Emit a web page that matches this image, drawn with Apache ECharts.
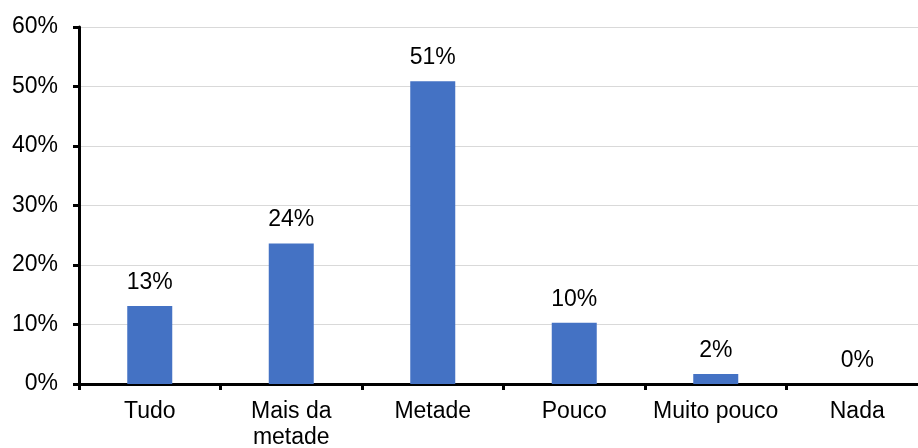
<!DOCTYPE html>
<html>
<head>
<meta charset="utf-8">
<script src="https://cdn.jsdelivr.net/npm/echarts@6/dist/echarts.min.js"></script>
<style>
html,body{margin:0;padding:0;background:#fff;}
#chart{width:918px;height:448px;}
</style>
</head>
<body>
<div id="chart"></div>
<script>
const categories = ['Tudo', 'Mais da\nmetade', 'Metade', 'Pouco', 'Muito pouco', 'Nada'];
const values = [13.1, 23.6, 50.9, 10.3, 1.7, 0];
const yTicks = { min: 0, max: 60, interval: 10 };

const font = '"Liberation Sans", Arial, sans-serif';
const chart = echarts.init(document.getElementById('chart'), null, { renderer: 'canvas' });
chart.setOption({
  animation: false,
  backgroundColor: '#ffffff',
  grid: { left: 79, top: 27, height: 357, width: 849, containLabel: false, outerBoundsMode: 'none' },
  xAxis: {
    type: 'category',
    data: categories,
    axisLine: { lineStyle: { color: '#000', width: 3 } },
    axisTick: { show: true, length: 6, lineStyle: { color: '#000', width: 3 }, alignWithLabel: false },
    axisLabel: { color: '#000', fontSize: 23, fontFamily: font, margin: 15, lineHeight: 26, interval: 0 }
  },
  yAxis: {
    type: 'value',
    min: yTicks.min, max: yTicks.max, interval: yTicks.interval,
    axisLine: { show: true, lineStyle: { color: '#000', width: 3 } },
    axisTick: { show: true, length: 6, lineStyle: { color: '#000', width: 3 } },
    axisLabel: { color: '#000', fontSize: 23, fontFamily: font, margin: 21, formatter: '{value}%' },
    splitLine: { show: true, lineStyle: { color: '#d9d9d9', width: 1 } }
  },
  series: [{
    type: 'bar',
    data: values,
    barWidth: 45,
    itemStyle: { color: '#4472C4' },
    label: {
      show: true, position: 'top', distance: 12,
      color: '#000', fontSize: 23, fontFamily: font,
      formatter: p => Math.round(p.value) + '%'
    }
  }]
});
</script>
</body>
</html>
